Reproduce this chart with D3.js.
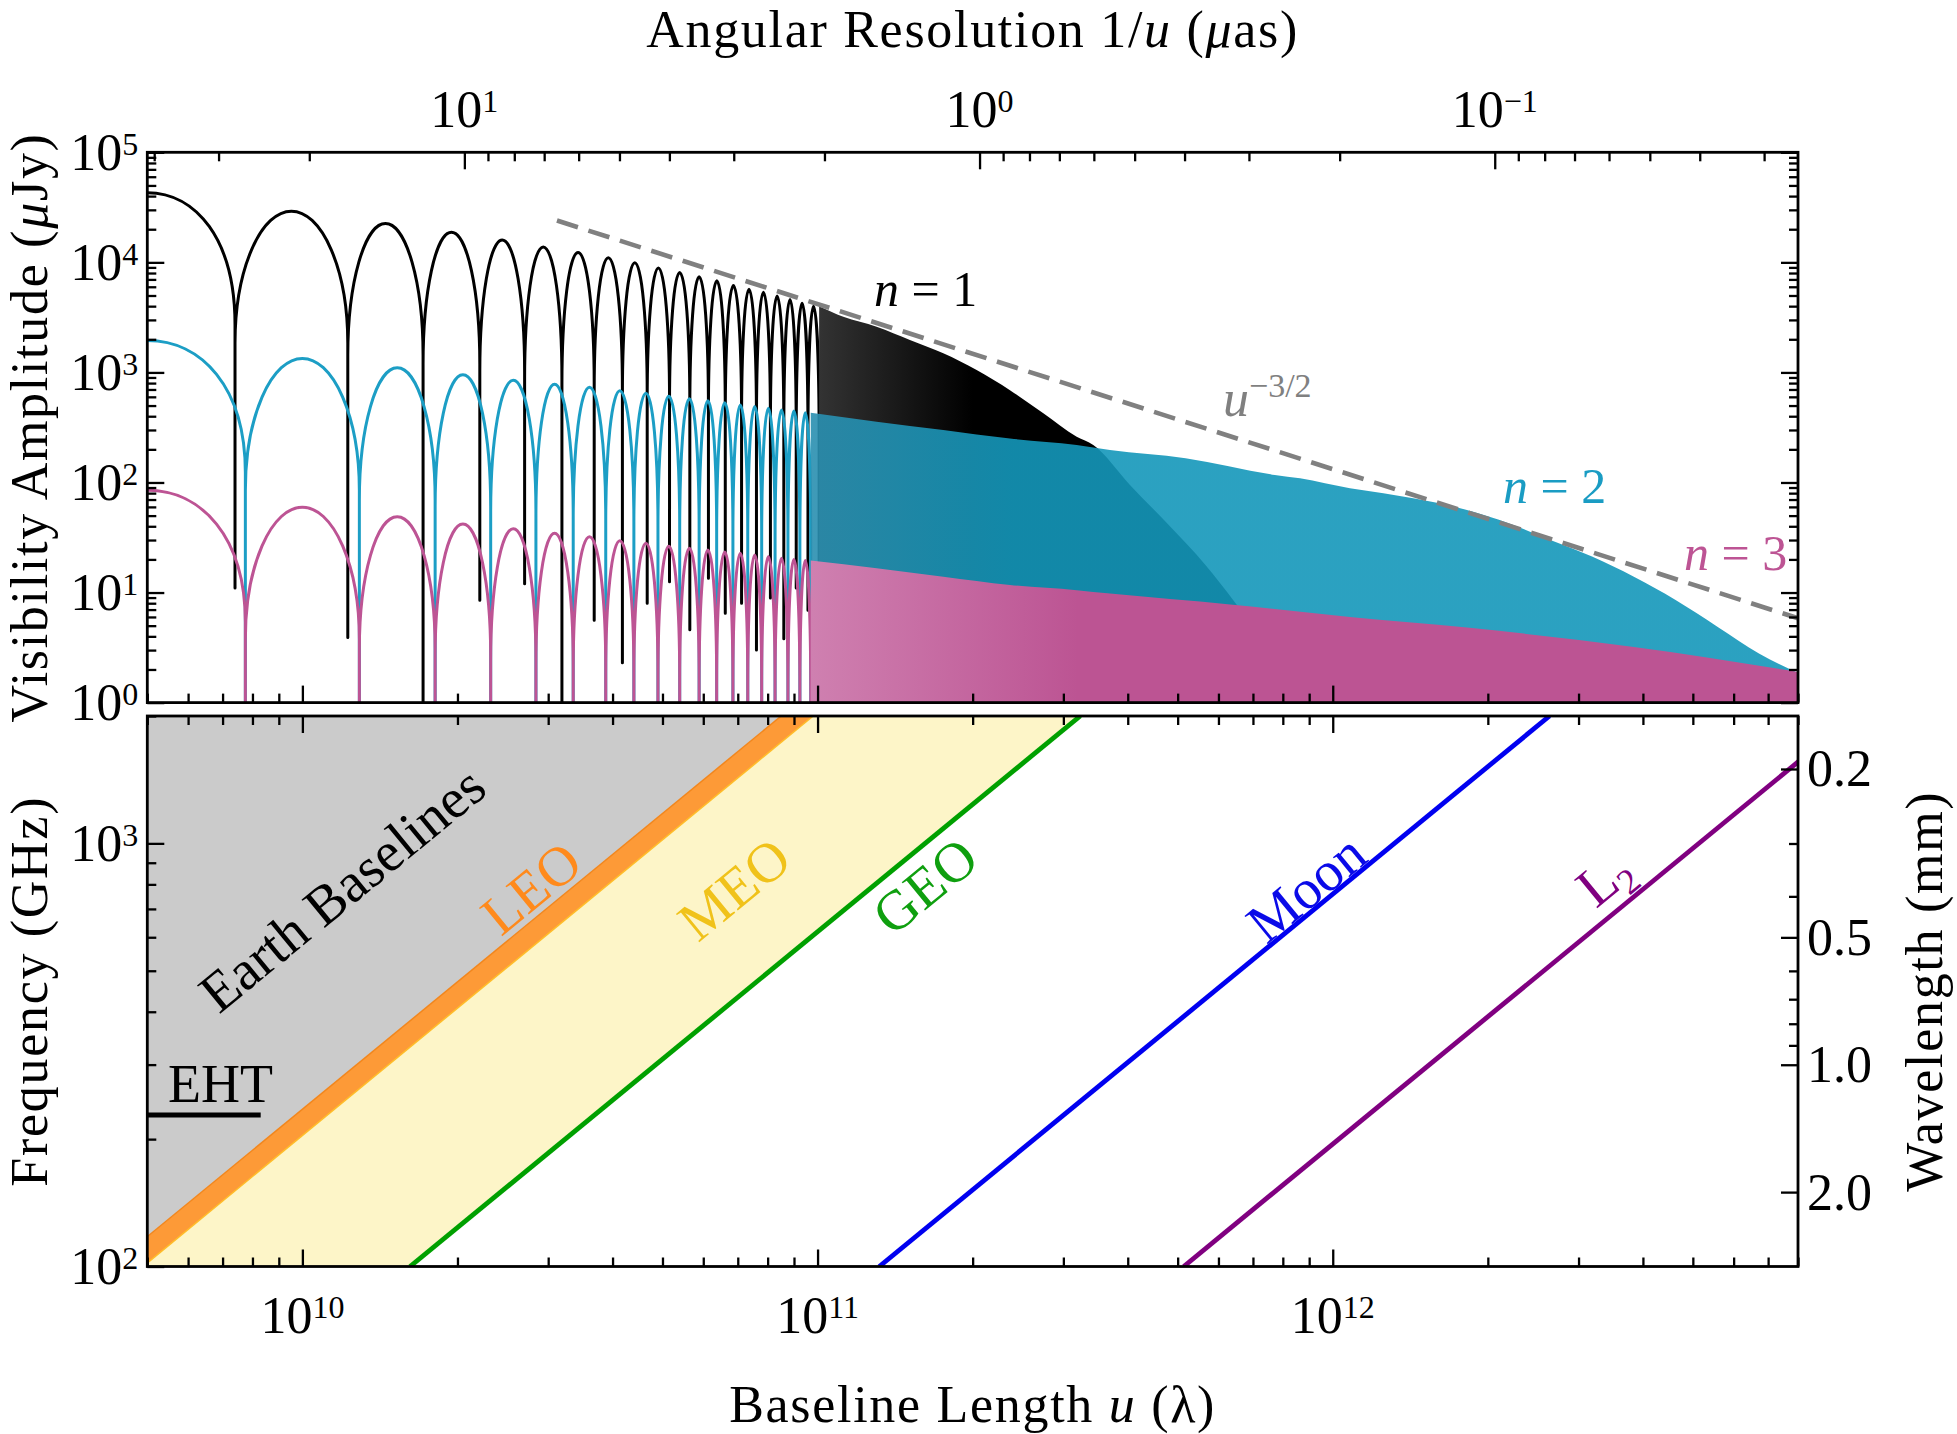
<!DOCTYPE html>
<html>
<head>
<meta charset="utf-8">
<script src="https://cdn.jsdelivr.net/npm/d3@7"></script>
<style>
  body { margin: 0; background: #fff; overflow: hidden; }
  svg { display: block; font-family: "Liberation Serif", "DejaVu Serif", serif; }
</style>
</head>
<body>
<div id="chart"></div>
<script>
// ---- top panel data ----
// nulls = baseline u (lambda) where a lobe ends, peaks = lobe maxima (uJy)
var n1Start = 43000;
var n1Nulls = [7.4e9, 1.225e10, 1.715e10, 2.21e10, 2.70e10, 3.19e10, 3.685e10, 4.18e10, 4.67e10, 5.16e10,
               5.65e10, 6.14e10, 6.62e10, 7.12e10, 7.61e10, 8.10e10, 8.60e10, 9.09e10, 9.58e10, 1.007e11];
var n1Peaks = [29200, 22600, 18800, 16000, 13800, 12300, 11000, 9900, 8900, 8100,
               7400, 6800, 6200, 5700, 5350, 4950, 4600, 4250, 4000];
var n1NullFloor = [11, 3.9, 0.1, 8.5, 12, 0.1, 5.6, 2.3, 8.0, 12.5,
                   4.6, 13.5, 6.5, 8.0, 3.0, 8.9, 3.8, 11, 6.9, 5.0];
// where the lobes get too dense to see, only the upper edge
var n1EnvU = [1.007e11, 1.122e11, 1.302e11, 1.511e11, 1.754e11, 2.036e11, 2.363e11, 2.743e11, 3.184e11,
              3.429e11, 4.04e11, 4.83e11, 5.65e11, 6.46e11, 7.39e11, 8.26e11];
var n1EnvAmp = [4000, 3200, 2600, 1970, 1490, 1050, 690, 425, 260, 219, 95, 40, 18, 8.1, 3.2, 1.0];

var n2Start = 1950;
var n2Nulls = [7.75e9, 1.29e10, 1.81e10, 2.32e10, 2.84e10, 3.355e10, 3.88e10, 4.40e10, 4.90e10, 5.40e10,
               5.89e10, 6.37e10, 6.85e10, 7.32e10, 7.79e10, 8.27e10, 8.76e10, 9.24e10, 9.70e10];
var n2Peaks = [1340, 1100, 955, 847, 782, 733, 682, 646, 611, 577, 553, 531, 506, 489, 472, 456, 447, 431];
var n2EnvU = [9.70e10, 1.302e11, 1.754e11, 2.363e11, 3.184e11, 3.695e11, 5.18e11, 7.72e11, 8.64e11, 1.08e12,
              1.254e12, 1.822e12, 2.195e12, 2.645e12, 3.186e12, 3.842e12, 4.629e12, 5.579e12, 6.719e12, 8e12];
var n2EnvAmp = [431, 357, 300, 251, 219, 197, 166, 117, 109, 88.5, 79.8, 56.2, 42.6, 30.0, 21.2, 13.9,
                8.55, 4.9, 2.8, 1.86];

var n3Start = 85;
var n3Nulls = [7.75e9, 1.29e10, 1.81e10, 2.32e10, 2.84e10, 3.355e10, 3.88e10, 4.40e10, 4.90e10, 5.40e10,
               5.89e10, 6.37e10, 6.85e10, 7.32e10, 7.79e10, 8.27e10, 8.76e10, 9.24e10, 9.70e10];
var n3Peaks = [59.6, 48.9, 42.0, 38.0, 34.5, 32.2, 29.6, 28.0, 26.5, 25.2, 24.4, 23.3, 22.8, 21.9,
               21.2, 20.5, 20.0, 19.5];
var n3EnvU = [9.70e10, 1.302e11, 1.754e11, 2.363e11, 3.184e11, 3.695e11, 6.32e11, 1.08e12, 1.822e12, 3.842e12, 8e12];
var n3EnvAmp = [19.5, 16.6, 13.9, 11.7, 10.5, 9.8, 7.8, 6.0, 4.8, 3.2, 1.9];

// u^-3/2 guide line, two ends
var slopeU = [3.12e10, 8e12];
var slopeAmp = [2.4e4, 5.84];

// ---- bottom panel data ----
var orbitNames = ["Earth", "LEO", "GEO", "Moon", "L2"];
var orbitKm = [12742, 14700, 48500, 395000, 1540000];
var freqEnds = [100, 2000];          // GHz
var ehtFreq = 228;                   // GHz
var ehtMaxU = 8.3e9;

// wavelength ticks (mm)
var waveMajor = [0.2, 0.5, 1.0, 2.0];
var waveMinor = [0.3, 0.4, 0.6, 0.7, 0.8, 0.9];

var C = 2.998e8;             // m/s
var UAS_PER_RAD = 2.06265e11;

// layout
var width = 1957, height = 1434;
var left = 147.3, right = 1798;
var top1 = 152.3, bot1 = 702.6;
var top2 = 716, bot2 = 1266.5;
var majorLen = 17, minorLen = 9;
var fs = 52, fsSup = 32;
var lobeWidth = 3.0;

var svg = d3.select("#chart").append("svg").attr("width", width).attr("height", height);

// scales
var x = d3.scaleLog().domain([5e9, 8e12]).range([left, right]);
var xRes = d3.scaleLog().domain([UAS_PER_RAD / 5e9, UAS_PER_RAD / 8e12]).range([left, right]);
var yAmp = d3.scaleLog().domain([1, 1e5]).range([bot1, top1]);
var yFreq = d3.scaleLog().domain(freqEnds).range([bot2, top2]);
var yWave = d3.scaleLog().domain([C / 1e6 / freqEnds[0], C / 1e6 / freqEnds[1]]).range([bot2, top2]);

function uAt(km, ghz) { return km * 1e3 * ghz * 1e9 / C; }
function zip(a, b) { return a.map(function(v, i) { return [v, b[i]]; }); }
function isDecade(v) { var l = Math.log10(v); return Math.abs(l - Math.round(l)) < 1e-6; }

var defs = svg.append("defs");
defs.append("clipPath").attr("id", "clipTop").append("rect")
    .attr("x", left).attr("y", top1).attr("width", right - left).attr("height", bot1 - top1);
defs.append("clipPath").attr("id", "clipBot").append("rect")
    .attr("x", left).attr("y", top2).attr("width", right - left).attr("height", bot2 - top2);

// dense part fades in from the striped look to a solid fill
function fade(id, u0, u1, c0, c1) {
    var g = defs.append("linearGradient").attr("id", id).attr("gradientUnits", "userSpaceOnUse")
        .attr("x1", x(u0)).attr("x2", x(u1)).attr("y1", 0).attr("y2", 0);
    g.append("stop").attr("offset", 0).attr("stop-color", c0);
    g.append("stop").attr("offset", 1).attr("stop-color", c1);
}
fade("fadeN1", n1EnvU[0], 2.0e11, "#333333", "#000000");
fade("fadeN2", n2EnvU[0], 2.4e11, "#2a8fb0", "#1497ba");
fade("fadeN3", n3EnvU[0], 3.2e11, "#cf80b0", "#bc5493");

// lobes: rounded top between two nulls, straight down to the null
function lobePath(start, nulls, peaks, floorOf) {
    var dome = yAmp(1) - yAmp(Math.pow(10, 1.2));
    var xl = x.range()[0], xn = x(nulls[0]);
    var ys = yAmp(start);
    var s = "M" + xl + "," + ys;
    s += "C" + (xl + 0.55 * (xn - xl)) + "," + ys + " " + xn + "," + (ys + 0.35 * dome) + " " + xn + "," + (ys + dome);
    s += "L" + xn + "," + yAmp(floorOf(0));
    for (var i = 0; i < peaks.length; i++) {
        var xa = x(nulls[i]), xb = x(nulls[i + 1]);
        var yp = yAmp(peaks[i]) + dome;
        s += "L" + xa + "," + yp;
        s += "A" + ((xb - xa) / 2) + "," + dome + " 0 0 1 " + xb + "," + yp;
        s += "L" + xb + "," + yAmp(floorOf(i + 1));
    }
    return s;
}

var envArea = d3.area()
    .x(function(d) { return x(d[0]); })
    .y0(yAmp(0.1))
    .y1(function(d) { return yAmp(d[1]); })
    .curve(d3.curveMonotoneX);

var gTop = svg.append("g").attr("clip-path", "url(#clipTop)");

// n = 1
gTop.append("path")
    .attr("d", lobePath(n1Start, n1Nulls, n1Peaks, function(i) { return n1NullFloor[i]; }))
    .attr("fill", "none").attr("stroke", "#000").attr("stroke-width", lobeWidth).attr("stroke-linejoin", "round");
gTop.append("path").datum(zip(n1EnvU, n1EnvAmp)).attr("d", envArea).attr("fill", "url(#fadeN1)");

// n = 2
gTop.append("path")
    .attr("d", lobePath(n2Start, n2Nulls, n2Peaks, function() { return 0.1; }))
    .attr("fill", "none").attr("stroke", "#1c9ec5").attr("stroke-width", lobeWidth).attr("stroke-linejoin", "round");
gTop.append("path").datum(zip(n2EnvU, n2EnvAmp)).attr("d", envArea)
    .attr("fill", "url(#fadeN2)").attr("fill-opacity", 0.9);

// n = 3
gTop.append("path")
    .attr("d", lobePath(n3Start, n3Nulls, n3Peaks, function() { return 0.1; }))
    .attr("fill", "none").attr("stroke", "#bd5494").attr("stroke-width", lobeWidth).attr("stroke-linejoin", "round");
gTop.append("path").datum(zip(n3EnvU, n3EnvAmp)).attr("d", envArea).attr("fill", "url(#fadeN3)");

// dashed guide
gTop.append("path").datum(zip(slopeU, slopeAmp))
    .attr("d", d3.line().x(function(d) { return x(d[0]); }).y(function(d) { return yAmp(d[1]); }))
    .attr("fill", "none").attr("stroke", "#808080").attr("stroke-width", 4.6).attr("stroke-dasharray", "22,11");

// ---- bottom panel ----
var gBot = svg.append("g").attr("clip-path", "url(#clipBot)");
var poly = d3.line().x(function(d) { return x(d[0]); }).y(function(d) { return yFreq(d[1]); });
var f0 = freqEnds[0], f1 = freqEnds[1];
var uLeft = x.domain()[0] / 2;

function band(kmA, kmB) {
    return [[uAt(kmA, f0), f0], [uAt(kmA, f1), f1], [uAt(kmB, f1), f1], [uAt(kmB, f0), f0]];
}

// MEO (yellow), LEO (orange), Earth (gray)
gBot.append("path").attr("d", poly(band(orbitKm[1], orbitKm[2])) + "Z").attr("fill", "#fdf5c8");
gBot.append("path").attr("d", poly(band(orbitKm[0], orbitKm[1])) + "Z").attr("fill", "#fd9a37");
gBot.append("path").attr("d", poly([[uLeft, f0], [uLeft, f1], [uAt(orbitKm[0], f1), f1], [uAt(orbitKm[0], f0), f0]]) + "Z")
    .attr("fill", "#cbcbcb");
gBot.append("path").attr("d", poly([[uAt(orbitKm[0], f0), f0], [uAt(orbitKm[0], f1), f1]]))
    .attr("stroke", "#f2861c").attr("stroke-width", 1.5).attr("fill", "none");
gBot.append("path").attr("d", poly([[uAt(orbitKm[1], f0), f0], [uAt(orbitKm[1], f1), f1]]))
    .attr("stroke", "#ffbd2a").attr("stroke-width", 1.5).attr("fill", "none");

var lineColors = { GEO: "#00a000", Moon: "#0000f0", L2: "#800080" };
[2, 3, 4].forEach(function(i) {
    gBot.append("path")
        .attr("d", poly([[uAt(orbitKm[i], f0), f0], [uAt(orbitKm[i], f1), f1]]))
        .attr("stroke", lineColors[orbitNames[i]]).attr("stroke-width", 4.8).attr("fill", "none");
});

// EHT
gBot.append("path").attr("d", poly([[x.domain()[0], ehtFreq], [ehtMaxU, ehtFreq]]))
    .attr("stroke", "#000").attr("stroke-width", 5).attr("fill", "none");

// ---- ticks ----
function tickRow(axis, tx, ty, values, len) {
    var g = svg.append("g").attr("transform", "translate(" + tx + "," + ty + ")")
        .call(axis.tickValues(values).tickSize(-len).tickFormat(""));
    g.select(".domain").remove();
    g.selectAll(".tick line").attr("stroke", "#000").attr("stroke-width", 2.3);
}

var uTicks = x.ticks();
var uMajor = uTicks.filter(isDecade), uMinor = uTicks.filter(function(v) { return !isDecade(v); });
var resTicks = xRes.ticks();
var resMajor = resTicks.filter(isDecade), resMinor = resTicks.filter(function(v) { return !isDecade(v); });
var ampTicks = yAmp.ticks();
var ampMajor = ampTicks.filter(isDecade), ampMinor = ampTicks.filter(function(v) { return !isDecade(v); });
var freqTicks = yFreq.ticks();
var freqMajor = freqTicks.filter(isDecade), freqMinor = freqTicks.filter(function(v) { return !isDecade(v); });

// top panel
tickRow(d3.axisTop(xRes), 0, top1, resMajor, majorLen);
tickRow(d3.axisTop(xRes), 0, top1, resMinor, minorLen);
tickRow(d3.axisBottom(x), 0, bot1, uMajor, majorLen);
tickRow(d3.axisBottom(x), 0, bot1, uMinor, minorLen);
tickRow(d3.axisLeft(yAmp), left, 0, ampMajor, majorLen);
tickRow(d3.axisLeft(yAmp), left, 0, ampMinor, minorLen);
tickRow(d3.axisRight(yAmp), right, 0, ampMajor, majorLen);
tickRow(d3.axisRight(yAmp), right, 0, ampMinor, minorLen);
// bottom panel
tickRow(d3.axisTop(x), 0, top2, uMajor, majorLen);
tickRow(d3.axisTop(x), 0, top2, uMinor, minorLen);
tickRow(d3.axisBottom(x), 0, bot2, uMajor, majorLen);
tickRow(d3.axisBottom(x), 0, bot2, uMinor, minorLen);
tickRow(d3.axisLeft(yFreq), left, 0, freqMajor, majorLen);
tickRow(d3.axisLeft(yFreq), left, 0, freqMinor, minorLen);
tickRow(d3.axisRight(yWave), right, 0, waveMajor, majorLen);
tickRow(d3.axisRight(yWave), right, 0, waveMinor, minorLen);

// frames
[[top1, bot1], [top2, bot2]].forEach(function(p) {
    svg.append("rect").attr("x", left).attr("y", p[0]).attr("width", right - left).attr("height", p[1] - p[0])
        .attr("fill", "none").attr("stroke", "#000").attr("stroke-width", 2.8);
});

// ---- labels ----
function expText(v) { return String(Math.round(Math.log10(v))).replace("-", "\u2212"); }
function powLabel(xPos, yPos, anchor, v) {
    var t = svg.append("text").attr("x", xPos).attr("y", yPos).attr("text-anchor", anchor).attr("font-size", fs);
    t.append("tspan").text("10");
    t.append("tspan").attr("dy", -15).attr("font-size", fsSup).text(expText(v));
}
resMajor.forEach(function(v) { powLabel(xRes(v), 127, "middle", v); });
uMajor.forEach(function(v) { powLabel(x(v), 1333, "middle", v); });
ampMajor.forEach(function(v) { powLabel(left - 9, yAmp(v) + 17.5, "end", v); });
freqMajor.forEach(function(v) { powLabel(left - 9, yFreq(v) + 17.5, "end", v); });
waveMajor.forEach(function(v) {
    svg.append("text").attr("x", right + 9).attr("y", yWave(v) + 17.5).attr("font-size", fs).text(d3.format(".1f")(v));
});

// text with italic pieces: parts = [[string, italic]]
function rich(g, parts, attrs) {
    var t = g.append("text").attr("font-size", fs);
    Object.keys(attrs).forEach(function(k) { t.attr(k, attrs[k]); });
    parts.forEach(function(p) {
        var s = t.append("tspan").text(p[0]);
        if (p[1]) s.attr("font-style", "italic");
    });
    return t;
}

var titleSpacing = 1.7;
rich(svg, [["Angular Resolution 1/", 0], ["u", 1], [" (", 0], ["\u03bc", 1], ["as)", 0]],
    { x: (left + right) / 2, y: 47, "text-anchor": "middle", "letter-spacing": titleSpacing });
rich(svg, [["Baseline Length ", 0], ["u", 1], [" (\u03bb)", 0]],
    { x: (left + right) / 2, y: 1422, "text-anchor": "middle", "letter-spacing": titleSpacing });
rich(svg, [["Visibility Amplitude (", 0], ["\u03bc", 1], ["Jy)", 0]],
    { transform: "translate(47," + ((top1 + bot1) / 2) + ") rotate(-90)", "text-anchor": "middle",
      "letter-spacing": titleSpacing });
rich(svg, [["Frequency (GHz)", 0]],
    { transform: "translate(47," + ((top2 + bot2) / 2) + ") rotate(-90)", "text-anchor": "middle",
      "letter-spacing": titleSpacing });
rich(svg, [["Wavelength (mm)", 0]],
    { transform: "translate(1942," + ((top2 + bot2) / 2) + ") rotate(-90)", "text-anchor": "middle",
      "letter-spacing": titleSpacing });

// ring labels
rich(svg, [["n", 1], [" = 1", 0]], { x: 874, y: 306, fill: "#000", "font-size": 50 });
rich(svg, [["n", 1], [" = 2", 0]], { x: 1503, y: 503, fill: "#1a9cc3", "font-size": 50 });
rich(svg, [["n", 1], [" = 3", 0]], { x: 1684, y: 570, fill: "#bd5494", "font-size": 50 });
var sl = svg.append("text").attr("x", 1223).attr("y", 416).attr("fill", "#808080").attr("font-size", fs);
sl.append("tspan").attr("font-style", "italic").text("u");
sl.append("tspan").attr("dy", -19).attr("font-size", 34).text("\u22123/2");

// bottom labels, turned along the baseline lines
var ang = Math.atan2(yFreq(f0) - yFreq(f1), x(uAt(1, f1)) - x(uAt(1, f0))) * 180 / Math.PI;
function slanted(txt, cx, cy, color) {
    return rich(svg, [[txt, 0]], {
        transform: "translate(" + cx + "," + cy + ") rotate(" + (-ang) + ")",
        "text-anchor": "middle", dy: "0.34em", fill: color, "font-size": 56
    });
}
slanted("Earth Baselines", 342, 889, "#000");
slanted("LEO", 531, 888, "#ff8a1c");
slanted("MEO", 734, 889, "#f0c21a");
slanted("GEO", 925, 886, "#0f9f0f");
slanted("Moon", 1306, 888, "#0a0ae8");
var l2 = slanted("L", 1604, 878, "#800080");
l2.append("tspan").attr("dy", 11).attr("font-size", 36).text("2");

svg.append("text").attr("x", 168).attr("y", 1102).attr("font-size", 54).text("EHT");
</script>
</body>
</html>
